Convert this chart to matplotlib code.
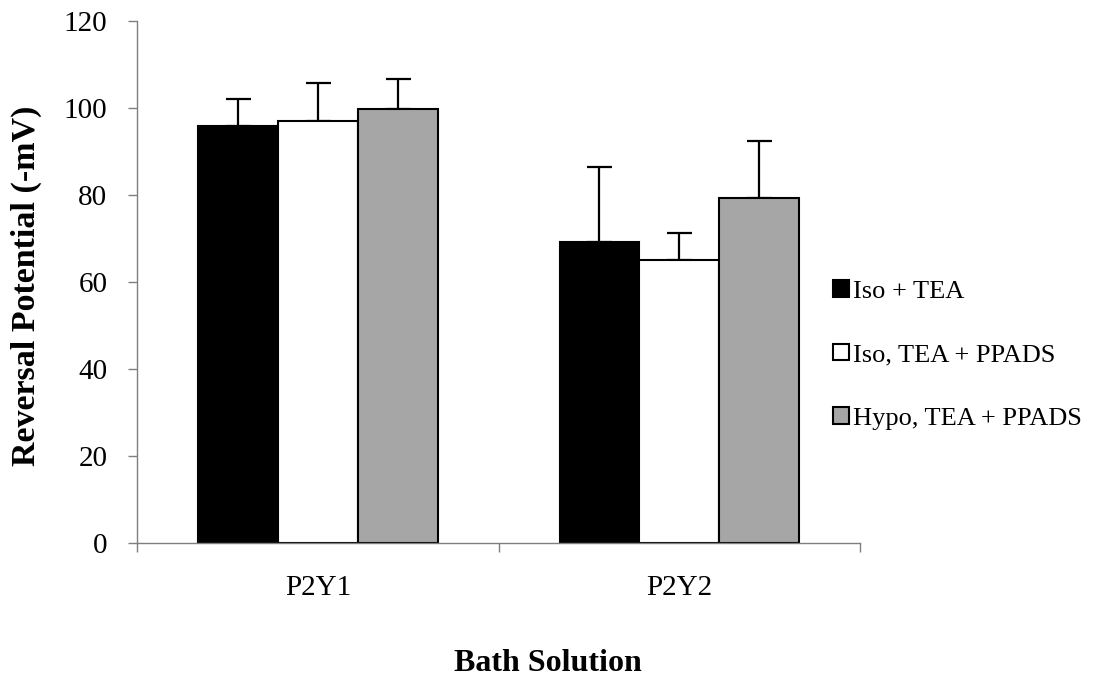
import matplotlib
matplotlib.use("Agg")
import matplotlib.pyplot as plt
import numpy as np
from matplotlib.patches import Patch

categories = ["P2Y1", "P2Y2"]
series_names = ["Iso + TEA", "Iso, TEA + PPADS", "Hypo, TEA + PPADS"]
iso_tea = [95.9, 69.3]
iso_tea_ppads = [96.9, 65.1]
hypo_tea_ppads = [99.8, 79.4]
iso_tea_err = [6.2, 17.2]
iso_tea_ppads_err = [8.9, 6.2]
hypo_tea_ppads_err = [6.9, 12.9]
y_ticks = [0, 20, 40, 60, 80, 100, 120]

values = [iso_tea, iso_tea_ppads, hypo_tea_ppads]
errors = [iso_tea_err, iso_tea_ppads_err, hypo_tea_ppads_err]
colors = ["#000000", "#ffffff", "#a6a6a6"]

plt.rcParams["font.family"] = ["Liberation Serif", "DejaVu Serif"]

W, H = 1096, 676
fig = plt.figure(figsize=(W / 100, H / 100), dpi=100)
ax = fig.add_axes([137.3 / W, 1 - 543 / H, (860 - 137.3) / W, (543 - 21) / H])

x = np.arange(len(categories))
width = 0.221
for i, (vals, errs, col, name) in enumerate(zip(values, errors, colors, series_names)):
    pos = x + (i - 1) * width
    ax.bar(pos, vals, width, color=col, edgecolor="black", linewidth=1.5,
           label=name, zorder=2)
    ax.errorbar(pos, vals, yerr=[np.zeros(len(errs)), errs], fmt="none",
                ecolor="black", elinewidth=1.6, capsize=9, capthick=1.6, zorder=1)

ax.set_xlim(-0.5, 1.5)
ax.set_ylim(0, 120)
ax.set_yticks(y_ticks)
ax.set_xticks(x)
ax.set_xticklabels(categories)
ax.set_xticks([-0.5, 0.5, 1.5], minor=True)
ax.tick_params(axis="x", which="major", length=0, pad=23, labelsize=21)
ax.tick_params(axis="x", which="minor", length=6.5, width=1, color="#7f7f7f", direction="out")
ax.tick_params(axis="y", length=6.5, width=1, color="#7f7f7f", direction="out", pad=15, labelsize=21)

for s in ["top", "right"]:
    ax.spines[s].set_visible(False)
for s in ["left", "bottom"]:
    ax.spines[s].set_color("#7f7f7f")
    ax.spines[s].set_linewidth(1)

# axis titles placed in figure coordinates
fig.text(26.5 / W, 1 - 286 / H, "Reversal Potential (-mV)", rotation=90,
         ha="center", va="center", fontsize=24.5, fontweight="bold")
fig.text(0.5, 1 - 671 / H, "Bath Solution", ha="center", va="baseline",
         fontsize=23, fontweight="bold")

handles = [Patch(facecolor=c, edgecolor="black", linewidth=1.5) for c in colors]
fig.legend(handles, series_names, loc="center left",
           bbox_to_anchor=(833 / W, 1 - 355 / H), bbox_transform=fig.transFigure,
           frameon=False, fontsize=19, handlelength=0.6, handleheight=0.6,
           handletextpad=0.15, labelspacing=1.55, borderpad=0, borderaxespad=0)

fig.savefig("out.png", dpi=100)
